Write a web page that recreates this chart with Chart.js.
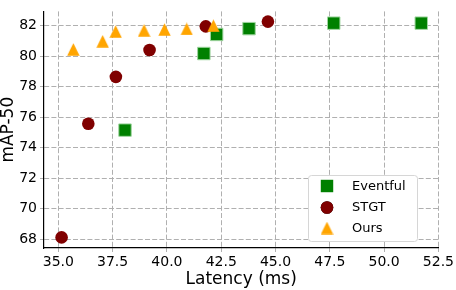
<!DOCTYPE html>
<html>
<head>
<meta charset="utf-8">
<script src="https://cdn.jsdelivr.net/npm/chart.js@4/dist/chart.umd.min.js"></script>
<style>
    html, body { margin: 0; padding: 0; background: #ffffff; }
    #wrap { width: 456px; height: 290px; }
</style>
</head>
<body>
<div id="wrap"><canvas id="scatterChart" width="456" height="290"></canvas></div>
<script>
// values
const eventfulLatency = [38.07, 41.70, 42.29, 43.78, 47.68, 51.71];
const eventfulMap = [75.16, 80.18, 81.43, 81.81, 82.17, 82.17];

const stgtLatency = [35.15, 36.38, 37.65, 39.20, 41.79, 44.65];
const stgtMap = [68.13, 75.58, 78.65, 80.41, 81.96, 82.27];

const oursLatency = [35.69, 37.04, 37.64, 38.95, 39.89, 40.91, 42.14];
const oursMap = [80.45, 80.98, 81.62, 81.70, 81.75, 81.79, 82.00];

const seriesNames = ['Eventful', 'STGT', 'Ours'];

const xTicks = [35.0, 37.5, 40.0, 42.5, 45.0, 47.5, 50.0, 52.5];
const yTicks = [68, 70, 72, 74, 76, 78, 80, 82];

const FONT = "'DejaVu Sans', sans-serif";
const GRID = '#b0b0b0';

function toPoints(xs, ys) {
    return xs.map((x, i) => ({ x: x, y: ys[i] }));
}

// matplotlib style '^' marker (as wide as it is tall)
function makeTriangle(size, color) {
    const c = document.createElement('canvas');
    c.width = size;
    c.height = size;
    const g = c.getContext('2d');
    g.fillStyle = color;
    g.beginPath();
    g.moveTo(size / 2, 0.3);
    g.lineTo(size - 0.3, size - 0.3);
    g.lineTo(0.3, size - 0.3);
    g.closePath();
    g.fill();
    return c;
}

const triangleMarker = makeTriangle(13, '#ffa500');

// legend drawn inside the plot, lower right
const boxLegend = {
    id: 'boxLegend',
    afterDraw(chart) {
        const ctx = chart.ctx;
        const x0 = 308, y0 = 175, w = 109, h = 66;

        ctx.save();
        ctx.beginPath();
        ctx.roundRect(x0 + 0.5, y0 + 0.5, w, h, 3);
        ctx.fillStyle = '#ffffff';
        ctx.fill();
        ctx.strokeStyle = '#d6d6d6';
        ctx.lineWidth = 1;
        ctx.stroke();

        const rows = [186, 207.5, 228];
        seriesNames.forEach((name, i) => {
            const ds = chart.data.datasets.find(d => d.label === name);
            Chart.helpers.drawPoint(ctx, {
                pointStyle: ds.pointStyle,
                radius: ds.pointRadius,
                rotation: 0,
                borderWidth: 0
            }, 327, rows[i]);
            if (ds.pointStyle !== triangleMarker) {
                ctx.fillStyle = ds.backgroundColor;
                ctx.fill();
            }
            ctx.fillStyle = '#000000';
            ctx.font = '13px ' + FONT;
            ctx.textBaseline = 'middle';
            ctx.textAlign = 'left';
            ctx.fillText(name, 352, rows[i] + 0.5);
        });
        ctx.restore();
    }
};

const scatterChart = new Chart(document.getElementById('scatterChart'), {
    type: 'scatter',
    data: {
        datasets: [
            {
                label: 'Eventful',
                data: toPoints(eventfulLatency, eventfulMap),
                pointStyle: 'rect',
                pointRadius: 8.8,
                backgroundColor: '#008000',
                borderColor: '#9fd59f',
                borderWidth: 1,
                order: 2
            },
            {
                label: 'STGT',
                data: toPoints(stgtLatency, stgtMap),
                pointStyle: 'circle',
                pointRadius: 6.3,
                backgroundColor: '#800000',
                borderColor: '#800000',
                borderWidth: 0,
                order: 1
            },
            {
                label: 'Ours',
                data: toPoints(oursLatency, oursMap),
                pointStyle: triangleMarker,
                pointRadius: 6.5,
                backgroundColor: '#ffa500',
                borderColor: '#ffa500',
                borderWidth: 0,
                order: 0
            }
        ]
    },
    options: {
        responsive: false,
        animation: false,
        layout: { padding: { top: 1, right: 17, left: 0, bottom: 0 } },
        plugins: {
            legend: { display: false },
            tooltip: { enabled: false }
        },
        scales: {
            x: {
                type: 'linear',
                min: 34.34,
                max: 52.5,
                afterFit: s => { s.height = 42; },
                afterBuildTicks: s => { s.ticks = xTicks.map(v => ({ value: v })); },
                grid: { color: GRID, lineWidth: 1, tickLength: 4, tickColor: GRID },
                border: { color: '#000000', width: 1.2, dash: [5, 2.2] },
                ticks: {
                    color: '#000000',
                    padding: 2,
                    maxRotation: 0,
                    autoSkip: false,
                    font: { family: FONT, size: 14 },
                    callback: v => Number(v).toFixed(1)
                },
                title: {
                    display: true,
                    text: 'Latency (ms)',
                    color: '#000000',
                    font: { family: FONT, size: 17, lineHeight: 1 },
                    padding: { top: 0, bottom: 2 }
                }
            },
            y: {
                type: 'linear',
                min: 67.435,
                max: 82.94,
                afterFit: s => { s.width = 44; },
                afterBuildTicks: s => { s.ticks = yTicks.map(v => ({ value: v })); },
                grid: { color: GRID, lineWidth: 1, tickLength: 4, tickColor: GRID },
                border: { color: '#000000', width: 1.2, dash: [5, 2.2] },
                ticks: {
                    color: '#000000',
                    padding: 3,
                    autoSkip: false,
                    font: { family: FONT, size: 14 },
                    callback: v => String(v)
                },
                title: {
                    display: true,
                    text: 'mAP-50',
                    color: '#000000',
                    font: { family: FONT, size: 17, lineHeight: 1 },
                    padding: { top: 0, bottom: 0 }
                }
            }
        }
    },
    plugins: [boxLegend]
});
</script>
</body>
</html>
